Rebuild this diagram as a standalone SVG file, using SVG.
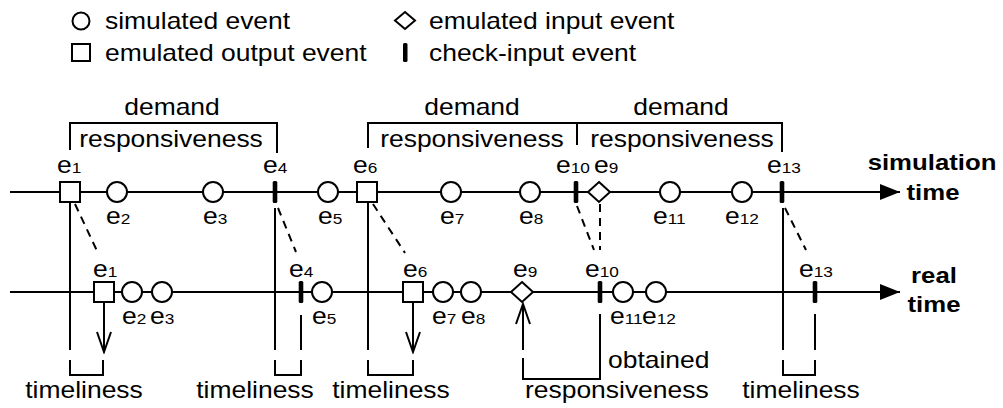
<svg xmlns="http://www.w3.org/2000/svg" width="1003" height="408" viewBox="0 0 1003 408">
<defs>
<style>
.t{font-family:"Liberation Sans",Arial,sans-serif;font-size:23px;fill:#000}
.b{font-weight:bold}
.m{text-anchor:middle}
.s{font-size:15px}
.ln{stroke:#000;stroke-width:2;fill:none}
.dash{stroke:#000;stroke-width:2;fill:none;stroke-dasharray:8 6}
.sh{stroke:#000;stroke-width:2;fill:#fff}
.bar{fill:#000}
</style>
<marker id="tri" markerUnits="userSpaceOnUse" viewBox="0 0 20 16" refX="20" refY="8" markerWidth="20" markerHeight="16" orient="auto">
<path d="M0,0 L20,8 L0,16 z" fill="#000"/>
</marker>
<marker id="vee" markerUnits="userSpaceOnUse" viewBox="-22 -9 24 18" refX="0" refY="0" markerWidth="24" markerHeight="18" orient="auto">
<path d="M-20,-7 L0,0 L-20,7" fill="none" stroke="#000" stroke-width="2"/>
</marker>
<circle id="circ" r="10" class="sh"/>
<rect id="sq" x="-10" y="-10" width="20" height="20" class="sh"/>
<path id="dia" d="M0,-10 L11,0 L0,10 L-11,0 z" class="sh"/>
<rect id="chk" x="-2.3" y="-11" width="4.6" height="22" rx="1.5" class="bar"/>
</defs>
<rect width="1003" height="408" fill="#fff"/>

<g id="legend">
<circle cx="81" cy="21" r="8.5" class="ln"/>
<text class="t" transform="translate(105,29) scale(1.15,1)">simulated event</text>
<rect x="72" y="44" width="18" height="17" class="ln"/>
<text class="t" transform="translate(105,61) scale(1.15,1)">emulated output event</text>
<path d="M405,12 L415,20.5 L405,29 L395,20.5 z" class="ln"/>
<text class="t" transform="translate(429,29) scale(1.15,1)">emulated input event</text>
<rect x="403" y="43" width="4.5" height="19" rx="1.5" class="bar"/>
<text class="t" transform="translate(429,61) scale(1.15,1)">check-input event</text>
</g>

<g id="connectors">
<line x1="10" y1="192" x2="900" y2="192" class="ln" marker-end="url(#tri)"/>
<line x1="10" y1="292" x2="900" y2="292" class="ln" marker-end="url(#tri)"/>
<path d="M70,150 V123 H277 V153" class="ln"/>
<path d="M368,148 V123 H782 V152 M577,123 V145" class="ln"/>
<line x1="70" y1="203" x2="70" y2="350" class="ln"/>
<line x1="275" y1="208" x2="275" y2="350" class="ln"/>
<line x1="368" y1="203" x2="368" y2="350" class="ln"/>
<line x1="783" y1="208" x2="783" y2="350" class="ln"/>
<line x1="301" y1="315" x2="301" y2="350" class="ln"/>
<line x1="815" y1="314" x2="815" y2="350" class="ln"/>
<line x1="104" y1="303" x2="104" y2="352" class="ln" marker-end="url(#vee)"/>
<line x1="413" y1="303" x2="413" y2="352" class="ln" marker-end="url(#vee)"/>
<line x1="523" y1="350" x2="523" y2="304" class="ln" marker-end="url(#vee)"/>
<path d="M70,360 V375 H103 V360" class="ln"/>
<path d="M275,360 V375 H301 V360" class="ln"/>
<path d="M368,360 V375 H413 V360" class="ln"/>
<path d="M783,360 V375 H815 V360" class="ln"/>
<path d="M523,358 V379 H600 V314" class="ln"/>
<line x1="75" y1="204" x2="98" y2="253" class="dash"/>
<line x1="278" y1="208" x2="296" y2="252" class="dash"/>
<line x1="373" y1="204" x2="405" y2="253" class="dash"/>
<line x1="577" y1="206" x2="594" y2="250" class="dash"/>
<line x1="600" y1="204" x2="600" y2="250" class="dash"/>
<line x1="785" y1="208" x2="806" y2="250" class="dash"/>
</g>

<g id="sim-nodes">
<g id="s-e1"><use href="#sq" x="70" y="192"/><text class="t" transform="translate(57,173) scale(1.15,1)">e<tspan class="s">1</tspan></text></g>
<g id="s-e2"><use href="#circ" x="117" y="192"/><text class="t" transform="translate(106,224) scale(1.15,1)">e<tspan class="s">2</tspan></text></g>
<g id="s-e3"><use href="#circ" x="213" y="192"/><text class="t" transform="translate(203,224) scale(1.15,1)">e<tspan class="s">3</tspan></text></g>
<g id="s-e4"><use href="#chk" x="275" y="192"/><text class="t" transform="translate(263,173) scale(1.15,1)">e<tspan class="s">4</tspan></text></g>
<g id="s-e5"><use href="#circ" x="328" y="192"/><text class="t" transform="translate(318,224) scale(1.15,1)">e<tspan class="s">5</tspan></text></g>
<g id="s-e6"><use href="#sq" x="367" y="192"/><text class="t" transform="translate(353,173) scale(1.15,1)">e<tspan class="s">6</tspan></text></g>
<g id="s-e7"><use href="#circ" x="451" y="192"/><text class="t" transform="translate(440,224) scale(1.15,1)">e<tspan class="s">7</tspan></text></g>
<g id="s-e8"><use href="#circ" x="530" y="192"/><text class="t" transform="translate(519,224) scale(1.15,1)">e<tspan class="s">8</tspan></text></g>
<g id="s-e10"><use href="#chk" x="576" y="192"/><text class="t" transform="translate(556,173) scale(1.15,1)">e<tspan class="s">10</tspan></text></g>
<g id="s-e9"><use href="#dia" x="599" y="192"/><text class="t" transform="translate(594,173) scale(1.15,1)">e<tspan class="s">9</tspan></text></g>
<g id="s-e11"><use href="#circ" x="670" y="192"/><text class="t" transform="translate(653,224) scale(1.15,1)">e<tspan class="s">11</tspan></text></g>
<g id="s-e12"><use href="#circ" x="742" y="192"/><text class="t" transform="translate(725,224) scale(1.15,1)">e<tspan class="s">12</tspan></text></g>
<g id="s-e13"><use href="#chk" x="782" y="192"/><text class="t" transform="translate(767,173) scale(1.15,1)">e<tspan class="s">13</tspan></text></g>
</g>

<g id="real-nodes">
<g id="r-e1"><use href="#sq" x="104" y="292"/><text class="t" transform="translate(93,277) scale(1.15,1)">e<tspan class="s">1</tspan></text></g>
<g id="r-e2"><use href="#circ" x="132" y="292"/><text class="t" transform="translate(122,324) scale(1.15,1)">e<tspan class="s">2</tspan></text></g>
<g id="r-e3"><use href="#circ" x="162" y="292"/><text class="t" transform="translate(150,324) scale(1.15,1)">e<tspan class="s">3</tspan></text></g>
<g id="r-e4"><use href="#chk" x="301" y="292"/><text class="t" transform="translate(289,277) scale(1.15,1)">e<tspan class="s">4</tspan></text></g>
<g id="r-e5"><use href="#circ" x="322" y="292"/><text class="t" transform="translate(312,324) scale(1.15,1)">e<tspan class="s">5</tspan></text></g>
<g id="r-e6"><use href="#sq" x="413" y="292"/><text class="t" transform="translate(403,277) scale(1.15,1)">e<tspan class="s">6</tspan></text></g>
<g id="r-e7"><use href="#circ" x="443" y="292"/><text class="t" transform="translate(432,324) scale(1.15,1)">e<tspan class="s">7</tspan></text></g>
<g id="r-e8"><use href="#circ" x="471" y="292"/><text class="t" transform="translate(461,324) scale(1.15,1)">e<tspan class="s">8</tspan></text></g>
<g id="r-e9"><use href="#dia" x="522" y="292"/><text class="t" transform="translate(513,277) scale(1.15,1)">e<tspan class="s">9</tspan></text></g>
<g id="r-e10"><use href="#chk" x="600" y="292"/><text class="t" transform="translate(585,277) scale(1.15,1)">e<tspan class="s">10</tspan></text></g>
<g id="r-e11"><use href="#circ" x="623" y="292"/><text class="t" transform="translate(610,324) scale(1.15,1)">e<tspan class="s">11</tspan></text></g>
<g id="r-e12"><use href="#circ" x="656" y="292"/><text class="t" transform="translate(642,324) scale(1.15,1)">e<tspan class="s">12</tspan></text></g>
<g id="r-e13"><use href="#chk" x="815" y="292"/><text class="t" transform="translate(799,277) scale(1.15,1)">e<tspan class="s">13</tspan></text></g>
</g>

<g id="labels">
<text class="t m" transform="translate(172,115) scale(1.15,1)">demand</text>
<text class="t m" transform="translate(171,147) scale(1.15,1)">responsiveness</text>
<text class="t m" transform="translate(472,115) scale(1.15,1)">demand</text>
<text class="t m" transform="translate(472,147) scale(1.15,1)">responsiveness</text>
<text class="t m" transform="translate(681,115) scale(1.15,1)">demand</text>
<text class="t m" transform="translate(682,147) scale(1.15,1)">responsiveness</text>
<text class="t b m" transform="translate(932,170) scale(1.12,1)">simulation</text>
<text class="t b m" transform="translate(933,200) scale(1.12,1)">time</text>
<text class="t b m" transform="translate(934,283) scale(1.12,1)">real</text>
<text class="t b m" transform="translate(934,312) scale(1.12,1)">time</text>
<text class="t m" transform="translate(84,398) scale(1.15,1)">timeliness</text>
<text class="t m" transform="translate(255,398) scale(1.15,1)">timeliness</text>
<text class="t m" transform="translate(391,398) scale(1.15,1)">timeliness</text>
<text class="t m" transform="translate(801,398) scale(1.15,1)">timeliness</text>
<text class="t" transform="translate(608,368) scale(1.15,1)">obtained</text>
<text class="t" transform="translate(525,398) scale(1.15,1)">responsiveness</text>
</g>
</svg>
